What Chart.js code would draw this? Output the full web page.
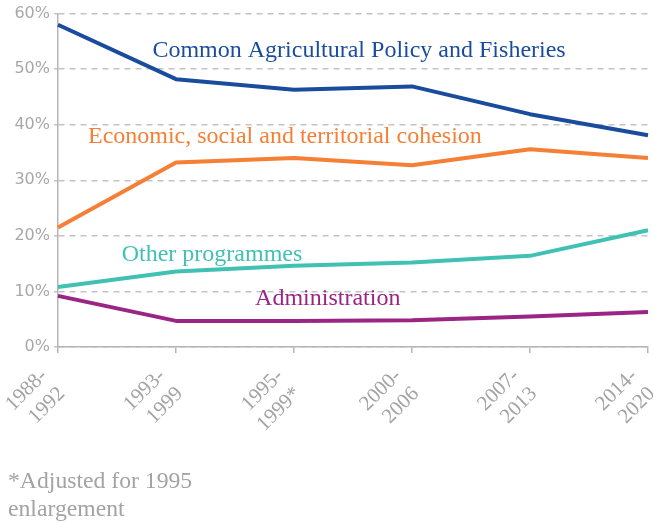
<!DOCTYPE html>
<html>
<head>
<meta charset="utf-8">
<script src="https://cdn.jsdelivr.net/npm/chart.js@4/dist/chart.umd.min.js"></script>
<style>
  html, body { margin: 0; padding: 0; background: #fff; }
  #wrap { position: relative; width: 653px; height: 524px; }
  #note {
    position: absolute; left: 8px; top: 466px;
    font-family: "Liberation Serif", "Times New Roman", serif;
    font-size: 23.7px; line-height: 28px; color: #a3a3a3;
  }
</style>
</head>
<body>
<div id="wrap">
  <canvas id="chart" width="653" height="524"></canvas>
  <div id="note">*Adjusted for 1995<br>enlargement</div>
</div>
<script>
// Periodos
const periods = [['1988-', '1992'], ['1993-', '1999'], ['1995-', '1999*'], ['2000-', '2006'], ['2007-', '2013'], ['2014-', '2020']];

// Parts du budget (%)
const agriculture = [58.0, 48.2, 46.3, 46.9, 41.9, 38.1];
const cohesion = [21.5, 33.2, 34.0, 32.7, 35.6, 34.0];
const otherProg = [10.8, 13.6, 14.6, 15.2, 16.4, 21.0];
const administration = [9.2, 4.7, 4.7, 4.8, 5.5, 6.3];

const yTicks = [0, 10, 20, 30, 40, 50, 60];

const seriesNames = [
  'Common Agricultural Policy and Fisheries',
  'Economic, social and territorial cohesion',
  'Other programmes',
  'Administration'
];
const colors = ['#1a4c9e', '#f47f35', '#41c1b3', '#9a2585'];

// label anchors in data space: [category index, value]
const labelAnchors = [[0.8, 52.1], [0.254, 36.8], [0.54, 15.45], [1.67, 7.55]];

const serif = '"Liberation Serif", "Times New Roman", serif';

const lineLabels = {
  id: 'lineLabels',
  afterDatasetsDraw(chart) {
    const ctx = chart.ctx;
    const xs = chart.scales.x, ys = chart.scales.y;
    ctx.save();
    ctx.font = '24px ' + serif;
    ctx.textAlign = 'left';
    ctx.textBaseline = 'alphabetic';
    seriesNames.forEach(function(name, i) {
      ctx.fillStyle = colors[i];
      ctx.fillText(name, xs.getPixelForValue(labelAnchors[i][0]), ys.getPixelForValue(labelAnchors[i][1]));
    });
    ctx.restore();
  }
};

function drawChart() {
  const ctx = document.getElementById('chart').getContext('2d');
  new Chart(ctx, {
    type: 'line',
    data: {
      labels: periods,
      datasets: [agriculture, cohesion, otherProg, administration].map(function(d, i) {
        return {
          label: seriesNames[i],
          data: d,
          borderColor: colors[i],
          backgroundColor: colors[i],
          borderWidth: 4,
          pointRadius: 0,
          tension: 0,
          borderCapStyle: 'butt',
          borderJoinStyle: 'round'
        };
      })
    },
    options: {
      responsive: false,
      animation: false,
      layout: { padding: { left: 0, right: 5, top: 13, bottom: 0 } },
      plugins: {
        legend: { display: false },
        tooltip: { enabled: false }
      },
      scales: {
        x: {
          offset: false,
          afterFit: function(s) {
            s.height = 177;
            s.paddingLeft = 0;
            s.paddingRight = 0;
          },
          grid: { drawOnChartArea: false, drawTicks: true, tickLength: 6, color: '#b5b5b5', lineWidth: 1.5 },
          border: { color: '#b5b5b5', width: 1.5 },
          ticks: {
            minRotation: 45,
            maxRotation: 45,
            padding: 11,
            labelOffset: -14,
            color: '#a3a3a3',
            font: { family: serif, size: 21 }
          }
        },
        y: {
          min: 0,
          max: 60,
          afterFit: function(s) { s.width = 58; },
          afterBuildTicks: function(s) { s.ticks = yTicks.map(function(v) { return { value: v }; }); },
          grid: { color: '#c4c4c4', lineWidth: 1.5, tickLength: 4 },
          border: { color: '#b5b5b5', width: 1.5, dash: [6, 5] },
          ticks: {
            padding: 4,
            color: '#a8a8a8',
            font: { family: '"DejaVu Sans", sans-serif', size: 16 },
            callback: function(v) { return v + '%'; }
          }
        }
      }
    },
    plugins: [lineLabels]
  });
}

document.fonts.load('24px "Liberation Serif"').then(drawChart, drawChart);
</script>
</body>
</html>
